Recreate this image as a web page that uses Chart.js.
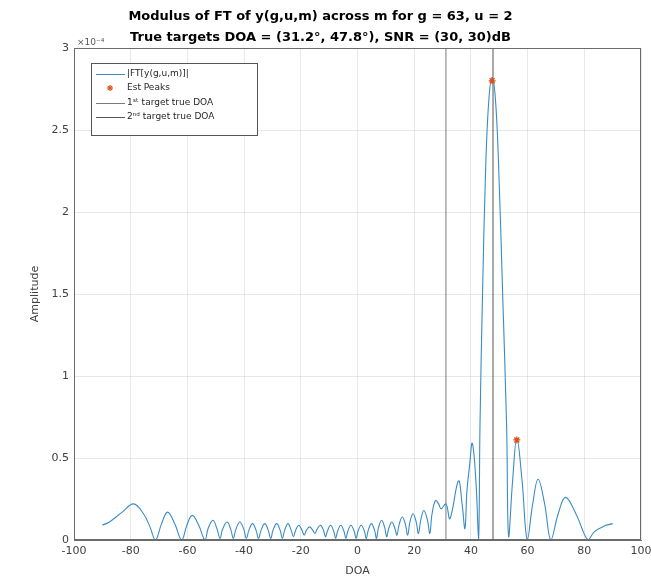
<!DOCTYPE html>
<html><head><meta charset="utf-8">
<script src="https://cdn.jsdelivr.net/npm/chart.js@4/dist/chart.umd.min.js"></script>
<style>html,body{margin:0;padding:0;background:#fff;}</style>
</head><body>
<canvas id="c" width="651" height="579"></canvas>
<script>
// ---- data (amplitude in units of 1e-4) ----
const titleLines = ["Modulus of FT of y(g,u,m) across m for g = 63, u = 2",
                    "True targets DOA = (31.2\u00B0, 47.8\u00B0), SNR = (30, 30)dB"];
const seriesNames = ["|FT[y(g,u,m)]|", "Est Peaks", "1\u02E2\u1D57 target true DOA", "2\u207F\u1D48 target true DOA"];
const xTicks = [-100, -80, -60, -40, -20, 0, 20, 40, 60, 80, 100];
const yTicks = [0, 0.5, 1, 1.5, 2, 2.5, 3];
const doa = [-90,-87.5,-83,-79,-75.5,-73.2,-71.3,-69.1,-67,-64.5,-62,-60.2,-58.3,-56.0,-53.8,-52.7,-51,-49.6,
  -48.5,-47.6,-46,-44.7,-43.8,-42.9,-41.5,-40.1,-39.2,-38.3,-37,-35.8,-34.9,-34.0,-32.7,-31.5,
  -30.6,-29.8,-28.5,-27.3,-26.5,-25.7,-24.5,-23.4,-22.6,-21.8,-20.7,-19.6,-18.8,-18.0,-16.9,-15.8,
  -15.0,-14.3,-13.1,-12.0,-11.3,-10.6,-9.5,-8.4,-7.7,-7.0,-5.9,-4.8,-4.1,-3.4,-2.3,-1.2,
  -0.5,0.2,1.3,2.4,3.1,3.8,4.9,6.0,6.7,7.4,8.5,9.6,10.3,11.0,12.1,13.2,13.9,14.7,15.8,16.9,
  17.7,18.5,19.6,20.7,21.5,22.3,23.4,24.7,25.5,26.3,27.5,28.6,29.5,31.2,32.6,35.6,36.9,37.9,38.6,39.5,40.5,41.8,
  42.7,43.2,44.1,45.3,46.4,47.5,48.6,49.7,51.2,52.6,53.3,54.75,56.2,58.0,59.9,61.8,63.7,66.0,68.2,70.8,73.4,77.3,81.3,83.5,87,90];
const amp = [0.09,0.11,0.17,0.22,0.16,0.08,0.00,0.10,0.17,0.10,0.00,0.09,0.15,0.09,0.00,0.07,0.12,0.07,
  0.01,0.065,0.11,0.065,0.01,0.065,0.11,0.065,0.01,0.06,0.10,0.06,0.01,0.06,0.10,0.06,
  0.01,0.06,0.10,0.06,0.01,0.06,0.10,0.06,0.02,0.06,0.09,0.06,0.03,0.06,0.08,0.06,
  0.04,0.065,0.09,0.06,0.02,0.055,0.09,0.055,0.01,0.055,0.09,0.055,0.01,0.055,0.09,0.055,
  0.01,0.055,0.09,0.055,0.01,0.06,0.10,0.06,0.01,0.075,0.12,0.075,0.02,0.07,0.11,0.07,0.03,0.095,0.14,0.095,
  0.03,0.11,0.16,0.11,0.04,0.12,0.18,0.12,0.04,0.16,0.24,0.22,0.19,0.22,0.13,0.36,0.22,0.07,0.30,0.45,0.59,0.35,
  0.00,0.69,1.50,2.32,2.70,2.82,2.70,2.32,1.50,0.69,0.02,0.37,0.62,0.37,0.00,0.22,0.37,0.22,0.00,0.16,0.26,0.15,0.00,0.05,0.085,0.10];
const peakDoa = [47.5, 56.2];
const peakAmp = [2.80, 0.61];
const trueDoa = [31.2, 47.8];

const curveColor = '#3a8cc4';
const peakColor = '#D95319';
const trueColors = ['#7a7a7a', '#555555'];

const curve = doa.map((d, i) => ({x: d, y: amp[i]}));
const peaks = peakDoa.map((d, i) => ({x: d, y: peakAmp[i]}));
const vline = d => [{x: d, y: yTicks[0]}, {x: d, y: yTicks[yTicks.length - 1]}];

const extras = {
  id: 'extras',
  afterDatasetsDraw(chart) {
    const {ctx, chartArea: a} = chart;
    ctx.save();
    ctx.strokeStyle = '#6b6b6b'; ctx.lineWidth = 1;
    ctx.strokeRect(a.left + 0.5, a.top + 0.5, a.right - a.left - 1, a.bottom - a.top - 1);
    ctx.fillStyle = '#555'; ctx.font = '9px "DejaVu Sans"'; ctx.textBaseline = 'alphabetic'; ctx.textAlign = 'left';
    ctx.fillText('\u00D710\u207B\u2074', a.left + 3, a.top - 3);
    const lx = 91, ly = 63, lw = 166, lh = 72;
    ctx.fillStyle = '#fff'; ctx.fillRect(lx, ly, lw, lh);
    ctx.strokeStyle = '#555'; ctx.strokeRect(lx + 0.5, ly + 0.5, lw, lh);
    const rows = [74, 88, 103, 117];
    ctx.font = '9px "DejaVu Sans"'; ctx.textBaseline = 'middle';
    chart.data.datasets.forEach((ds, i) => {
      const y = rows[i];
      if (i === 1) {
        ctx.strokeStyle = ds.borderColor; ctx.lineWidth = 1.2;
        const cx = 110, r = 3;
        for (let k = 0; k < 4; k++) { const ang = k * Math.PI / 4; ctx.beginPath(); ctx.moveTo(cx - r * Math.cos(ang), y - r * Math.sin(ang)); ctx.lineTo(cx + r * Math.cos(ang), y + r * Math.sin(ang)); ctx.stroke(); }
      } else {
        ctx.strokeStyle = ds.borderColor; ctx.lineWidth = 1;
        ctx.beginPath(); ctx.moveTo(96, y + 0.5); ctx.lineTo(125, y + 0.5); ctx.stroke();
      }
      ctx.fillStyle = '#262626';
      ctx.fillText(ds.label, 127, y);
    });
    ctx.restore();
  }
};

new Chart(document.getElementById('c'), {
  type: 'scatter',
  data: {
    datasets: [
      {label: seriesNames[0], data: curve, showLine: true, borderColor: curveColor, borderWidth: 1.1, pointRadius: 0, tension: 0.4, order: 1},
      {label: seriesNames[1], data: peaks, showLine: false, pointStyle: 'star', pointRadius: 3.5, borderColor: peakColor, backgroundColor: peakColor, borderWidth: 1.3, order: 0},
      {label: seriesNames[2], data: vline(trueDoa[0]), showLine: true, borderColor: trueColors[0], borderWidth: 1, pointRadius: 0, order: 2},
      {label: seriesNames[3], data: vline(trueDoa[1]), showLine: true, borderColor: trueColors[1], borderWidth: 1, pointRadius: 0, order: 2}
    ]
  },
  options: {
    responsive: false, animation: false, devicePixelRatio: 1,
    layout: {padding: {left: 0, right: 10, top: 0, bottom: 0}},
    plugins: {
      legend: {display: false}, tooltip: {enabled: false},
      title: {display: true, text: titleLines, color: '#000', font: {family: 'DejaVu Sans', size: 13, weight: 'bold', lineHeight: 21 / 13}, padding: {top: 6, bottom: 0}}
    },
    scales: {
      x: {type: 'linear', min: xTicks[0], max: xTicks[xTicks.length - 1],
          afterBuildTicks: s => { s.ticks = xTicks.map(v => ({value: v})); },
          afterFit: s => { s.height = 39; s.paddingLeft = 0; s.paddingRight = 0; },
          ticks: {color: '#404040', font: {family: 'DejaVu Sans', size: 11}, padding: 5, maxRotation: 0},
          grid: {color: 'rgba(0,0,0,0.09)', drawTicks: false},
          border: {color: '#6b6b6b'},
          title: {display: true, text: 'DOA', color: '#404040', font: {family: 'DejaVu Sans', size: 11}, padding: {top: 0, bottom: 1}}},
      y: {type: 'linear', min: yTicks[0], max: yTicks[yTicks.length - 1],
          afterBuildTicks: s => { s.ticks = yTicks.map(v => ({value: v})); },
          afterFit: s => { s.width = 74; s.paddingTop = 0; s.paddingBottom = 0; },
          ticks: {color: '#404040', font: {family: 'DejaVu Sans', size: 11}, padding: 5, callback: v => String(v)},
          grid: {color: 'rgba(0,0,0,0.09)', drawTicks: false},
          border: {color: '#6b6b6b'},
          title: {display: true, text: 'Amplitude', color: '#404040', font: {family: 'DejaVu Sans', size: 11}, padding: {top: 29, bottom: 0}}}
    }
  },
  plugins: [extras]
});
</script>
</body></html>
